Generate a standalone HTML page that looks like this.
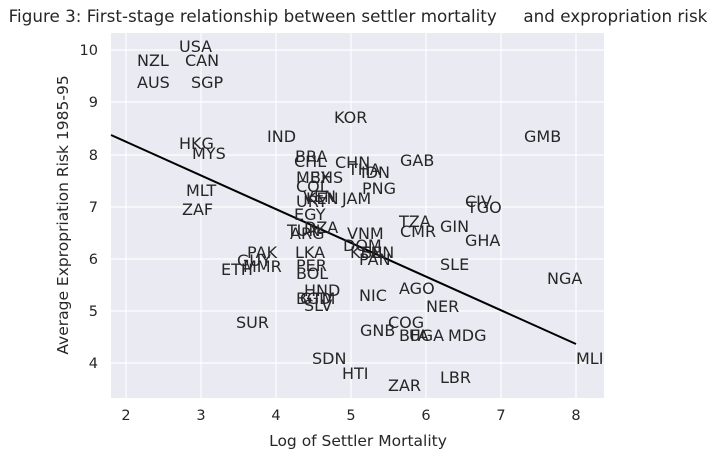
<!DOCTYPE html>
<html><head><style>body{margin:0;background:#fff}svg{display:block}text{font-family:"DejaVu Sans","Liberation Sans",sans-serif;fill:#262626}</style></head><body>
<svg width="716" height="458" xmlns="http://www.w3.org/2000/svg">
<rect x="111" y="33" width="493" height="365" fill="#eaeaf2"/>
<g stroke="#fff" stroke-width="1.2">
<line x1="126" y1="33" x2="126" y2="398"/><line x1="201" y1="33" x2="201" y2="398"/><line x1="276" y1="33" x2="276" y2="398"/><line x1="351" y1="33" x2="351" y2="398"/><line x1="426" y1="33" x2="426" y2="398"/><line x1="501" y1="33" x2="501" y2="398"/><line x1="576" y1="33" x2="576" y2="398"/>
<line x1="111" y1="50" x2="604" y2="50"/><line x1="111" y1="102" x2="604" y2="102"/><line x1="111" y1="155" x2="604" y2="155"/><line x1="111" y1="207" x2="604" y2="207"/><line x1="111" y1="259" x2="604" y2="259"/><line x1="111" y1="311" x2="604" y2="311"/><line x1="111" y1="363" x2="604" y2="363"/>
</g>
<g font-size="14.5" text-anchor="middle">
<text x="126" y="420">2</text><text x="201" y="420">3</text><text x="276" y="420">4</text><text x="351" y="420">5</text><text x="426" y="420">6</text><text x="501" y="420">7</text><text x="576" y="420">8</text>
</g>
<g font-size="14.5" text-anchor="end">
<text x="98" y="55">10</text><text x="98" y="107">9</text><text x="98" y="160">8</text><text x="98" y="212">7</text><text x="98" y="264">6</text><text x="98" y="316">5</text><text x="98" y="368">4</text>
</g>
<text x="358" y="22" font-size="16.75" text-anchor="middle" xml:space="preserve">Figure 3: First-stage relationship between settler mortality     and expropriation risk</text>
<text x="358" y="446" font-size="15.5" text-anchor="middle">Log of Settler Mortality</text>
<text transform="translate(68,215) rotate(-90)" font-size="15.5" text-anchor="middle">Average Expropriation Risk 1985-95</text>
<line x1="111" y1="135" x2="576" y2="344" stroke="#000" stroke-width="2"/>
<g font-size="16">
<text x="179" y="52">USA</text><text x="137" y="66">NZL</text><text x="185" y="66">CAN</text><text x="137" y="88">AUS</text><text x="191" y="88">SGP</text>
<text x="334" y="123">KOR</text><text x="267" y="142">IND</text><text x="524" y="142">GMB</text><text x="179" y="149">HKG</text><text x="192" y="159">MYS</text>
<text x="295" y="162">BRA</text><text x="294" y="167">CHL</text><text x="335" y="168">CHN</text><text x="400" y="166">GAB</text><text x="348" y="175">THA</text><text x="361" y="178">IDN</text>
<text x="296" y="183">MEX</text><text x="310" y="183">BHS</text><text x="296" y="192">COL</text><text x="362" y="194">PNG</text><text x="186" y="196">MLT</text>
<text x="303" y="202">VEN</text><text x="342" y="204">JAM</text><text x="306" y="204">KEN</text><text x="296" y="207">URY</text><text x="182" y="215">ZAF</text>
<text x="465" y="207">CIV</text><text x="467" y="213">TGO</text><text x="294" y="220">EGY</text><text x="399" y="227">TZA</text><text x="440" y="232">GIN</text>
<text x="287" y="236">TUN</text><text x="304" y="233">DZA</text><text x="290" y="239">ARG</text><text x="347" y="239">VNM</text><text x="400" y="237">CMR</text><text x="465" y="246">GHA</text>
<text x="343" y="251">DOM</text><text x="350" y="258">KEN</text><text x="362" y="258">SEN</text><text x="359" y="265">PAN</text>
<text x="247" y="258">PAK</text><text x="295" y="258">LKA</text><text x="237" y="266">GUY</text><text x="221" y="275">ETH</text><text x="243" y="272">MMR</text>
<text x="296" y="271">PER</text><text x="296" y="279">BOL</text><text x="440" y="270">SLE</text><text x="547" y="284">NGA</text><text x="399" y="294">AGO</text>
<text x="304" y="296">HND</text><text x="296" y="304">BGD</text><text x="300" y="304">GTM</text><text x="304" y="311">SLV</text><text x="359" y="301">NIC</text><text x="426" y="312">NER</text>
<text x="236" y="328">SUR</text><text x="388" y="328">COG</text><text x="360" y="336">GNB</text><text x="399" y="341">BFA</text><text x="409" y="341">UGA</text><text x="448" y="341">MDG</text>
<text x="312" y="364">SDN</text><text x="576" y="364">MLI</text><text x="342" y="379">HTI</text><text x="440" y="383">LBR</text><text x="388" y="391">ZAR</text>
</g>
</svg>
</body></html>
